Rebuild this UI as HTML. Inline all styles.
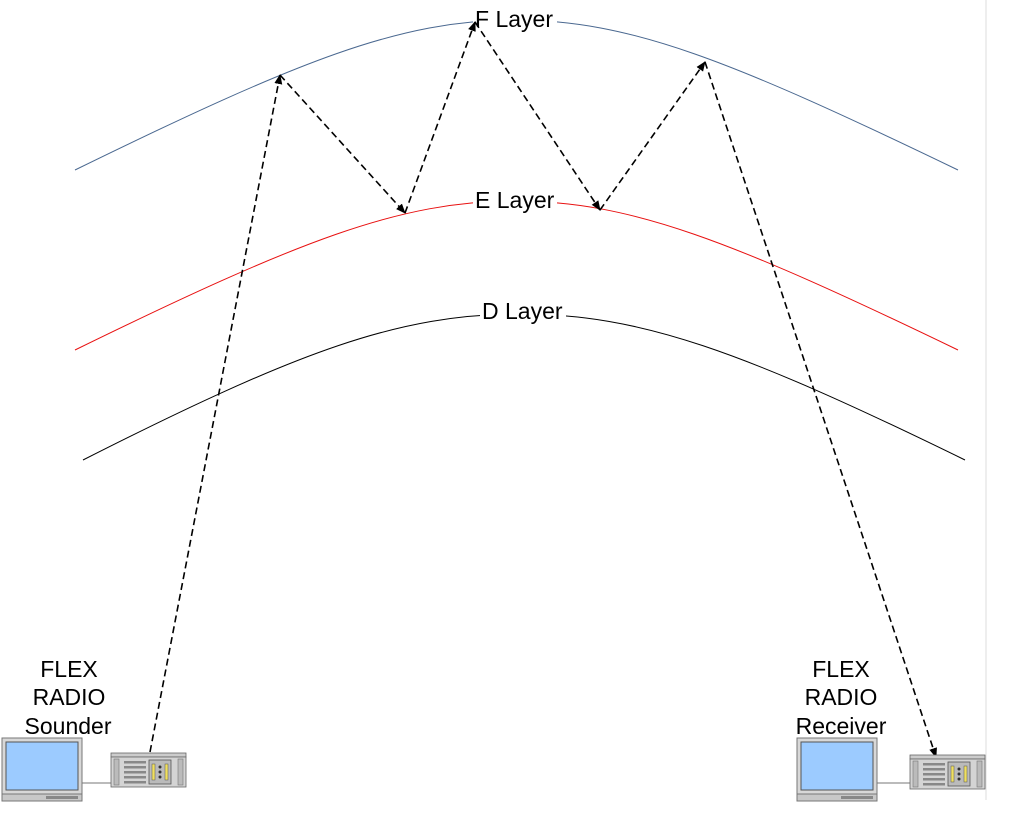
<!DOCTYPE html>
<html><head><meta charset="utf-8"><style>
html,body{margin:0;padding:0;background:#fff;}
svg{display:block;}
text{font-family:"Liberation Sans",sans-serif;font-size:23px;fill:#000;}
</style></head><body>
<svg width="1016" height="815" viewBox="0 0 1016 815" xmlns="http://www.w3.org/2000/svg">
<defs>
<marker id="ah" markerWidth="10" markerHeight="10" refX="9" refY="5" orient="auto" markerUnits="userSpaceOnUse">
<path d="M0,1 L10,5 L0,9 Z" fill="#000"/>
</marker>
<g id="mon">
<rect x="0" y="0" width="80" height="56" fill="#d8d8d8" stroke="#777" stroke-width="1"/>
<rect x="4" y="4" width="72" height="48" fill="#9ccbff" stroke="#555" stroke-width="1"/>
<rect x="0" y="56" width="80" height="7" fill="#c8c8c8" stroke="#777" stroke-width="1"/>
<rect x="44" y="58" width="32" height="3" fill="#888"/>
</g>
<g id="rad">
<rect x="0" y="0" width="75" height="4" fill="#ccc" stroke="#666" stroke-width="0.8"/>
<rect x="0" y="4" width="75" height="30" fill="#d4d4d4" stroke="#666" stroke-width="0.8"/>
<rect x="3" y="6" width="5" height="26" fill="#bbb" stroke="#777" stroke-width="0.6"/>
<rect x="67" y="6" width="5" height="26" fill="#bbb" stroke="#777" stroke-width="0.6"/>
<g fill="#888"><rect x="13" y="8" width="22" height="2.5"/><rect x="13" y="13" width="22" height="2.5"/><rect x="13" y="18" width="22" height="2.5"/><rect x="13" y="23" width="22" height="2.5"/><rect x="13" y="28" width="22" height="2.5"/></g>
<rect x="38" y="7" width="22" height="24" fill="#bbb" stroke="#555" stroke-width="0.8"/>
<rect x="41" y="11" width="3" height="16" fill="#f0e060" stroke="#555" stroke-width="0.5"/>
<rect x="54" y="11" width="3" height="16" fill="#f0e060" stroke="#555" stroke-width="0.5"/>
<circle cx="49" cy="14" r="1.5" fill="#333"/><circle cx="49" cy="19" r="1.5" fill="#333"/><circle cx="49" cy="24" r="1.5" fill="#333"/>
</g>
</defs>
<line x1="986" y1="0" x2="986" y2="800" stroke="#ddd" stroke-width="1"/>
<path d="M75,170 C300,60 400,20 515,20 C630,20 730,60 958,170" fill="none" stroke="#4a6890" stroke-width="1"/>
<path d="M75,350 C300,240 400,201 515,201 C630,201 730,240 958,350" fill="none" stroke="#e81010" stroke-width="1"/>
<path d="M83,460 C300,350 400,314 520,314 C640,314 740,350 965,460" fill="none" stroke="#000" stroke-width="1"/>
<rect x="473" y="6" width="84" height="26" fill="#fff"/>
<rect x="473" y="188" width="84" height="24" fill="#fff"/>
<rect x="480" y="299" width="86" height="24" fill="#fff"/>
<text x="475" y="27">F Layer</text>
<text x="475" y="208">E Layer</text>
<text x="482" y="319">D Layer</text>
<g stroke="#000" stroke-width="1.6" stroke-dasharray="7,4" fill="none" marker-end="url(#ah)">
<line x1="150" y1="752" x2="280" y2="75"/>
<line x1="280" y1="75" x2="405" y2="213"/>
<line x1="405" y1="213" x2="475" y2="22"/>
<line x1="475" y1="22" x2="600" y2="210"/>
<line x1="600" y1="210" x2="705" y2="62"/>
<line x1="705" y1="62" x2="936" y2="757"/>
</g>
<line x1="80" y1="783" x2="112" y2="783" stroke="#777" stroke-width="1"/>
<line x1="877" y1="783" x2="910" y2="783" stroke="#777" stroke-width="1"/>
<use href="#mon" x="2" y="738"/>
<use href="#rad" x="111" y="753"/>
<use href="#mon" x="797" y="738"/>
<use href="#rad" x="910" y="755"/>
<g text-anchor="middle">
<text x="69" y="677">FLEX</text><text x="69" y="705">RADIO</text><text x="68" y="734">Sounder</text>
<text x="841" y="677">FLEX</text><text x="841" y="705">RADIO</text><text x="841" y="734">Receiver</text>
</g>
</svg>
</body></html>
